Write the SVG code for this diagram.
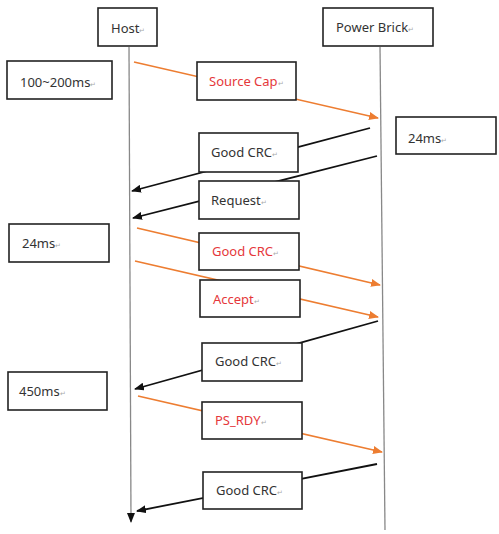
<svg xmlns="http://www.w3.org/2000/svg" width="499" height="534" viewBox="0 0 499 534">
<style>
.box{fill:#fff;stroke:#222;stroke-width:1.6}
.t{font-family:"Noto Sans","Open Sans","Liberation Sans",sans-serif;font-size:13px;fill:#333}
.r{fill:#e5383b}
.pm{font-size:7px;fill:#aaa}
.life{stroke:#888;stroke-width:1.3;fill:none}
.o{stroke:#ed7d31;stroke-width:1.6;fill:none;marker-end:url(#ao)}
.k{stroke:#111;stroke-width:1.8;fill:none;marker-end:url(#ak)}
</style>
<defs>
<marker id="ao" markerWidth="10" markerHeight="8" refX="9" refY="4" orient="auto" markerUnits="userSpaceOnUse"><path d="M0,0 L10,4 L0,8 Z" fill="#ed7d31"/></marker>
<marker id="ak" markerWidth="10" markerHeight="8" refX="9" refY="4" orient="auto" markerUnits="userSpaceOnUse"><path d="M0,0 L10,4 L0,8 Z" fill="#111"/></marker>
<marker id="al" markerWidth="10" markerHeight="8" refX="9" refY="4" orient="auto" markerUnits="userSpaceOnUse"><path d="M0,0 L10,4 L0,8 Z" fill="#111"/></marker>
</defs>
<rect width="499" height="534" fill="#fff"/>
<g id="lifelines">
<line class="life" x1="129" y1="47" x2="131" y2="522" marker-end="url(#al)"/>
<line class="life" x1="380" y1="47" x2="385" y2="530"/>
</g>
<g id="connectors">
<line class="o" x1="134" y1="62" x2="378" y2="118"/>
<line class="k" x1="370" y1="128" x2="132" y2="191"/>
<line class="k" x1="377" y1="156" x2="133" y2="218"/>
<line class="o" x1="137" y1="228" x2="380" y2="285"/>
<line class="o" x1="135" y1="261" x2="378" y2="317"/>
<line class="k" x1="378" y1="321" x2="135" y2="389"/>
<line class="o" x1="138" y1="396" x2="382" y2="452"/>
<line class="k" x1="377" y1="464" x2="137" y2="511"/>
</g>
<g id="host"><rect class="box" x="98" y="8" width="59" height="38"/><text class="t" x="111" y="33">Host<tspan class="pm">↵</tspan></text></g>
<g id="powerbrick"><rect class="box" x="323" y="8" width="110" height="38"/><text class="t" x="336" y="32">Power Brick<tspan class="pm">↵</tspan></text></g>
<g id="t100"><rect class="box" x="7" y="61" width="105" height="38"/><text class="t" x="20" y="87">100~200ms<tspan class="pm">↵</tspan></text></g>
<g id="sourcecap"><rect class="box" x="197" y="62" width="99" height="38"/><text class="t r" x="209" y="86">Source Cap<tspan class="pm">↵</tspan></text></g>
<g id="t24r"><rect class="box" x="396" y="117" width="100" height="37"/><text class="t" x="408" y="143">24ms<tspan class="pm">↵</tspan></text></g>
<g id="goodcrc1"><rect class="box" x="199" y="133" width="99" height="39"/><text class="t" x="211" y="157">Good CRC<tspan class="pm">↵</tspan></text></g>
<g id="request"><rect class="box" x="199" y="181" width="100" height="38"/><text class="t" x="211" y="205">Request<tspan class="pm">↵</tspan></text></g>
<g id="t24l"><rect class="box" x="9" y="224" width="100" height="38"/><text class="t" x="22" y="248">24ms<tspan class="pm">↵</tspan></text></g>
<g id="goodcrc2"><rect class="box" x="199" y="233" width="100" height="37"/><text class="t r" x="212" y="256">Good CRC<tspan class="pm">↵</tspan></text></g>
<g id="accept"><rect class="box" x="200" y="280" width="100" height="37"/><text class="t r" x="213" y="304">Accept<tspan class="pm">↵</tspan></text></g>
<g id="goodcrc3"><rect class="box" x="202" y="343" width="100" height="38"/><text class="t" x="215" y="366">Good CRC<tspan class="pm">↵</tspan></text></g>
<g id="t450"><rect class="box" x="8" y="372" width="99" height="38"/><text class="t" x="19" y="396">450ms<tspan class="pm">↵</tspan></text></g>
<g id="psrdy"><rect class="box" x="202" y="402" width="100" height="37"/><text class="t r" x="215" y="425">PS_RDY<tspan class="pm">↵</tspan></text></g>
<g id="goodcrc4"><rect class="box" x="203" y="472" width="99" height="37"/><text class="t" x="216" y="495">Good CRC<tspan class="pm">↵</tspan></text></g>
</svg>
